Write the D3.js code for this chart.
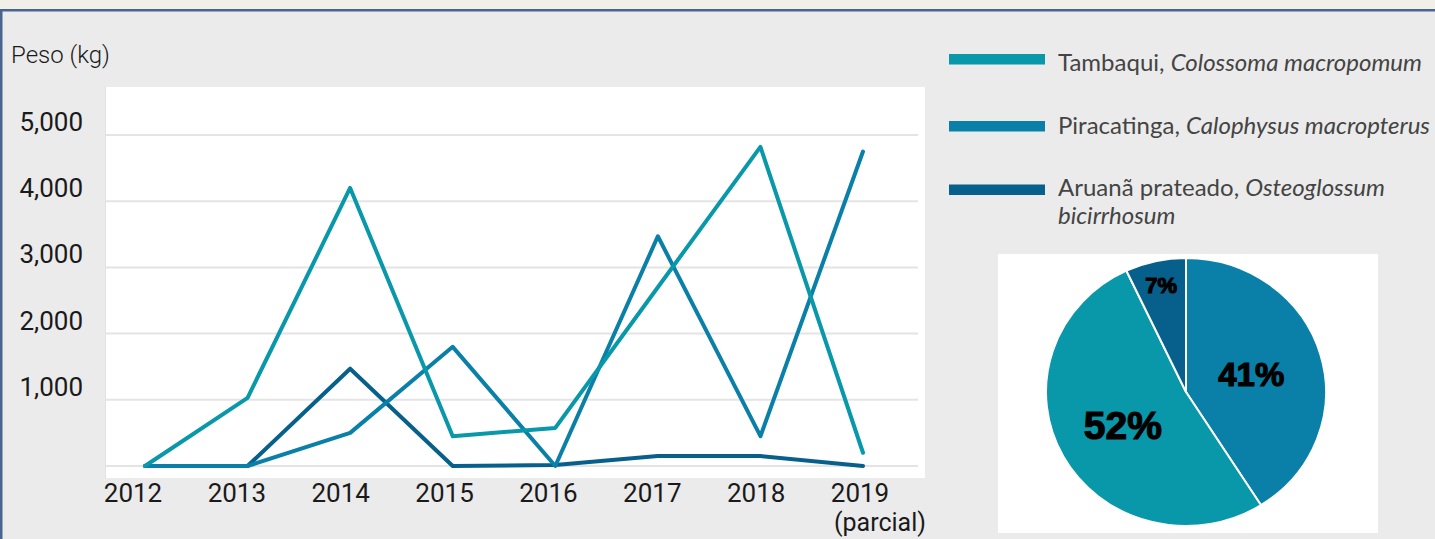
<!DOCTYPE html>
<html>
<head>
<meta charset="utf-8">
<script src="https://cdn.jsdelivr.net/npm/d3@7"></script>
<style>
  html, body { margin: 0; padding: 0; background: #ebebeb; overflow: hidden; }
  svg { display: block; }
</style>
</head>
<body>
<div id="chart"></div>
<script>
// Data
const years = ["2012", "2013", "2014", "2015", "2016", "2017", "2018", "2019"];
const yTicks = [1000, 2000, 3000, 4000, 5000];
const tambaqui = [0, 1030, 4200, 450, 575, 2700, 4820, 200];
const piracatinga = [0, 0, 500, 1800, 0, 3470, 450, 4750];
const aruana = [0, 0, 1470, 0, 15, 150, 150, 0];
const pieShares = [41, 52, 7]; // Piracatinga, Tambaqui, Aruanã

const seriesNames = [
    ["Tambaqui, ", "Colossoma macropomum"],
    ["Piracatinga, ", "Calophysus macropterus"],
    ["Aruanã prateado, ", "Osteoglossum", "bicirrhosum"]
];

const cTamb = "#0898a9", cPira = "#0a80a8", cAru = "#07608c";

const width = 1435, height = 539;
const svg = d3.select("#chart").append("svg")
    .attr("width", width)
    .attr("height", height);

// frame
svg.append("rect").attr("width", width).attr("height", 10).attr("fill", "#f2eee8");
svg.append("rect").attr("y", 9).attr("width", width).attr("height", 2.5).attr("fill", "#47658d");
svg.append("rect").attr("x", 0).attr("y", 9).attr("width", 2.5).attr("height", height).attr("fill", "#47658d");

// plot area
svg.append("rect")
    .attr("x", 105).attr("y", 87)
    .attr("width", 820).attr("height", 391)
    .attr("fill", "#ffffff");
svg.append("line")
    .attr("x1", 105.5).attr("x2", 105.5).attr("y1", 87).attr("y2", 478)
    .attr("stroke", "#e2e2e2").attr("stroke-width", 1);

const x = d3.scalePoint().domain(years).range([145, 863]);
const xLab = d3.scalePoint().domain(years).range([133, 860]);
const y = d3.scaleLinear().domain([0, 5000]).range([466, 135]);

// gridlines
svg.append("g")
    .selectAll("line")
    .data([0].concat(yTicks))
    .join("line")
    .attr("x1", 106).attr("x2", 918)
    .attr("y1", d => y(d)).attr("y2", d => y(d))
    .attr("stroke", "#e4e4e4")
    .attr("stroke-width", 2);

// y tick labels
svg.append("g")
    .selectAll("text")
    .data(yTicks)
    .join("text")
    .attr("x", 83)
    .attr("y", d => y(d) - 4)
    .attr("text-anchor", "end")
    .attr("font-family", "Roboto, sans-serif")
    .attr("font-size", "26px")
    .attr("fill", "#1a1a1a")
    .text(d => d3.format(",")(d));

svg.append("text")
    .attr("x", 11).attr("y", 63)
    .attr("font-family", "Roboto, sans-serif")
    .attr("font-size", "24px")
    .attr("font-weight", 300)
    .attr("fill", "#1a1a1a")
    .text("Peso (kg)");

// x labels
svg.append("g")
    .selectAll("text")
    .data(years)
    .join("text")
    .attr("x", d => xLab(d))
    .attr("y", 502)
    .attr("text-anchor", "middle")
    .attr("font-family", "Roboto, sans-serif")
    .attr("font-size", "26px")
    .attr("fill", "#1a1a1a")
    .text(d => d);
svg.append("text")
    .attr("x", xLab("2019") + 20).attr("y", 531)
    .attr("text-anchor", "middle")
    .attr("font-family", "Roboto, sans-serif")
    .attr("font-size", "25px")
    .attr("fill", "#1a1a1a")
    .text("(parcial)");

// lines
const line = d3.line()
    .x((d, i) => x(years[i]))
    .y(d => y(d));

[[aruana, cAru], [piracatinga, cPira], [tambaqui, cTamb]].forEach(([vals, col]) => {
    svg.append("path")
        .datum(vals)
        .attr("d", line)
        .attr("fill", "none")
        .attr("stroke", col)
        .attr("stroke-width", 4)
        .attr("stroke-linejoin", "round")
        .attr("stroke-linecap", "round");
});

// legend
const legendCols = [cTamb, cPira, cAru];
const legendY = [59, 126, 189.5];
const legendBase = [71, 134, 196];
seriesNames.forEach((parts, i) => {
    svg.append("rect")
        .attr("x", 949).attr("y", legendY[i] - 5)
        .attr("width", 96).attr("height", 10.5)
        .attr("fill", legendCols[i]);
    const t = svg.append("text")
        .attr("x", 1058).attr("y", legendBase[i])
        .attr("font-family", "Lato, sans-serif")
        .attr("font-size", "24px")
        .attr("fill", "#444444");
    t.append("tspan").text(parts[0]);
    t.append("tspan").attr("font-style", "italic").text(parts[1]);
    if (parts[2]) {
        svg.append("text")
            .attr("x", 1058).attr("y", legendBase[i] + 28)
            .attr("font-family", "Lato, sans-serif")
            .attr("font-size", "24px")
            .attr("font-style", "italic")
            .attr("fill", "#444444")
            .text(parts[2]);
    }
});

// pie
svg.append("rect")
    .attr("x", 998).attr("y", 254)
    .attr("width", 380).attr("height", 279)
    .attr("fill", "#ffffff");

const cx = 1186, cy = 392, rx = 140, ry = 134;
const pieCols = [cPira, cTamb, cAru];
const arcs = d3.pie().sort(null)(pieShares);
const arc = d3.arc().innerRadius(0).outerRadius(rx);
svg.append("g")
    .attr("transform", `translate(${cx},${cy}) scale(1,${ry / rx})`)
    .selectAll("path")
    .data(arcs)
    .join("path")
    .attr("d", arc)
    .attr("fill", (d, i) => pieCols[i])
    .attr("stroke", "#ffffff")
    .attr("stroke-width", 2);

const labelR = [68, 72, 114];
const labelSize = [33, 39, 22];
svg.append("g")
    .selectAll("text")
    .data(arcs)
    .join("text")
    .attr("x", (d, i) => cx + Math.sin((d.startAngle + d.endAngle) / 2) * labelR[i])
    .attr("y", (d, i) => cy - Math.cos((d.startAngle + d.endAngle) / 2) * labelR[i] * ry / rx)
    .attr("dy", "0.36em")
    .attr("text-anchor", "middle")
    .attr("font-family", "'Liberation Sans', Arial, sans-serif")
    .attr("font-weight", "bold")
    .attr("font-size", (d, i) => labelSize[i] + "px")
    .attr("fill", "#000000")
    .attr("stroke", "#000000")
    .attr("stroke-width", 1.2)
    .text(d => d.data + "%");
</script>
</body>
</html>
